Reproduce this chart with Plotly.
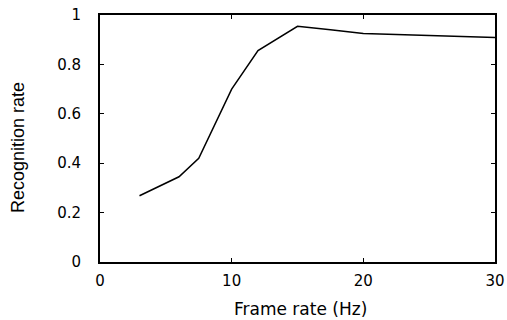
import plotly.graph_objects as go

frame_rate = [3, 6, 7.5, 10, 12, 15, 17.5, 20, 25, 30]
recognition = [0.268, 0.345, 0.42, 0.70, 0.856, 0.954, 0.94, 0.925, 0.917, 0.909]

x_ticks = [0, 10, 20, 30]
y_ticks = [0, 0.2, 0.4, 0.6, 0.8, 1]
y_tick_labels = ["0", "0.2", "0.4", "0.6", "0.8", "1"]

x_title = "Frame rate (Hz)"
y_title = "Recognition rate"

fig = go.Figure()
fig.add_trace(go.Scatter(x=frame_rate, y=recognition, mode="lines",
                         line=dict(color="black", width=1.5), showlegend=False))

axis_common = dict(showline=True, linecolor="black", linewidth=1.8, mirror="ticks",
                   ticks="inside", ticklen=4, tickcolor="black", tickwidth=1,
                   showgrid=False, zeroline=False, automargin=False)

tick_font = dict(family="DejaVu Sans", size=15, color="black")

fig.update_xaxes(range=[0, 30], tickvals=x_ticks, tickfont=tick_font,
                 ticklabelstandoff=4, **axis_common)
fig.update_yaxes(range=[0, 1], tickvals=y_ticks, ticktext=y_tick_labels, tickfont=tick_font,
                 ticklabelstandoff=14, **axis_common)

fig.add_annotation(text=x_title, xref="paper", yref="paper", x=0.508, y=-0.19,
                   xanchor="center", yanchor="middle", showarrow=False,
                   font=dict(family="DejaVu Sans", size=17, color="black"))
fig.add_annotation(text=y_title, xref="paper", yref="paper", x=-0.208, y=0.465,
                   xanchor="center", yanchor="middle", textangle=-90, showarrow=False,
                   font=dict(family="Liberation Sans", size=18, color="black"))

fig.update_layout(width=507, height=320, margin=dict(l=100, r=12, t=15, b=58),
                  plot_bgcolor="white", paper_bgcolor="white")

fig.write_html("out.html", config={"displayModeBar": False},
               post_script="document.body.style.margin='0';document.body.style.overflow='hidden';")
